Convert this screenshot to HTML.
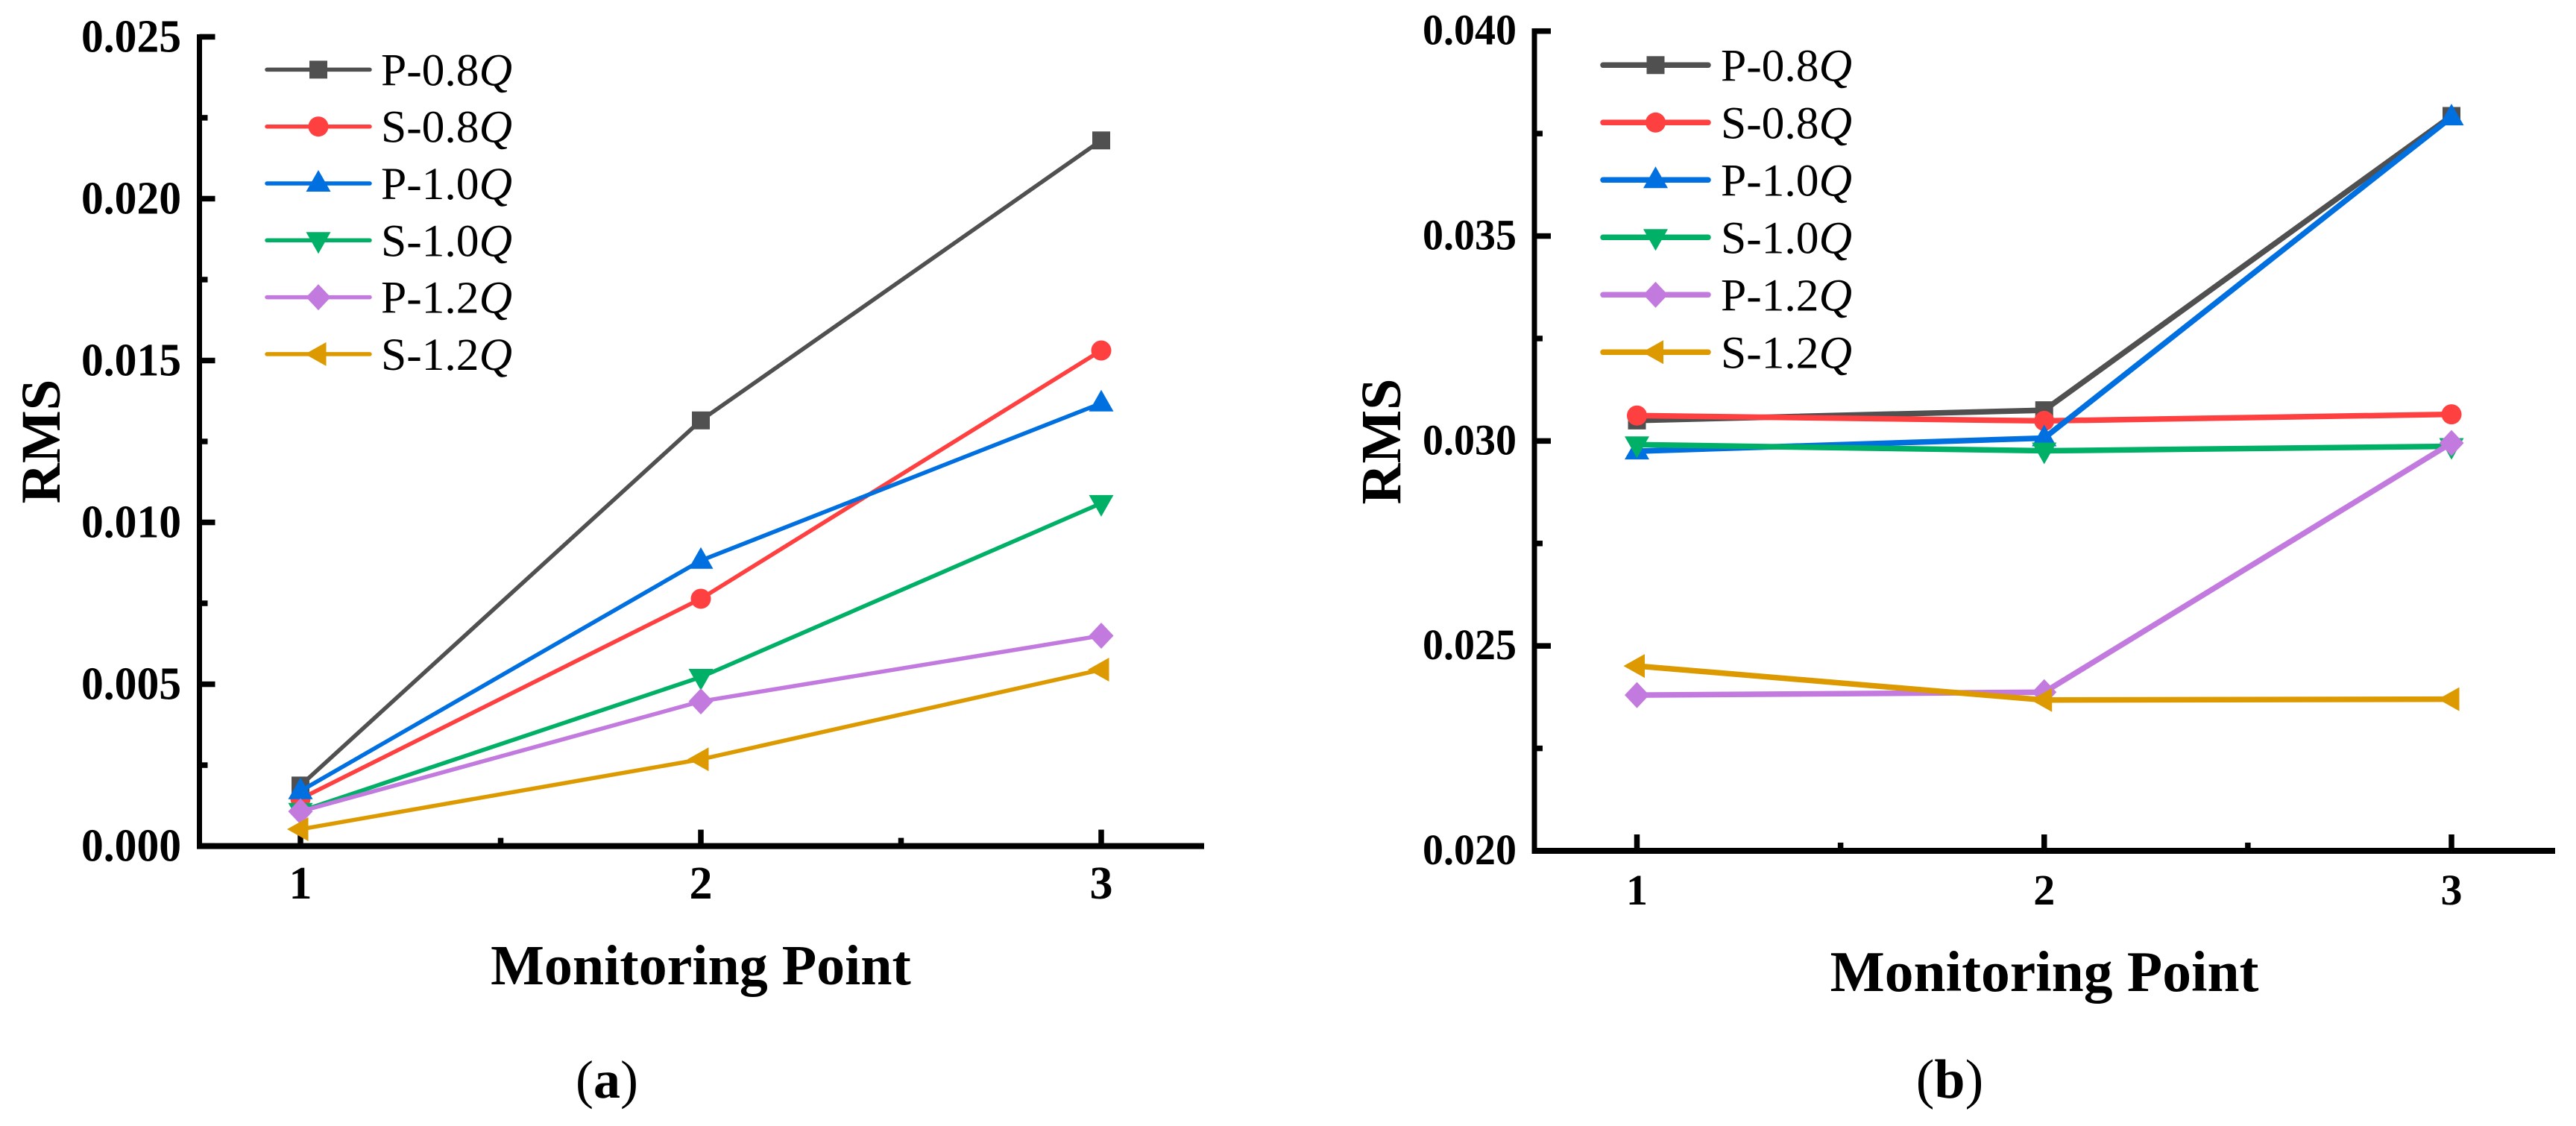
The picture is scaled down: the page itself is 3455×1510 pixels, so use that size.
<!DOCTYPE html>
<html lang="en">
<head>
<meta charset="utf-8">
<title>RMS by monitoring point</title>
<style>
html,body{margin:0;padding:0;background:#fff;}
svg{display:block;}
text{font-family:"Liberation Serif",serif;fill:#000;}
.tick{font-weight:bold;}
.title{font-weight:bold;}
</style>
</head>
<body>
<svg id="figure" xmlns="http://www.w3.org/2000/svg" width="3455" height="1510" viewBox="0 0 3455 1510">
  <rect width="3455" height="1510" fill="#fff"/>
  <g id="panel-a"></g>
  <g id="panel-b"></g>
  <text class="title" font-size="75" text-anchor="middle" transform="translate(80 592) rotate(-90)">RMS</text>
  <text class="title" font-size="76" text-anchor="middle" transform="translate(1878 592) rotate(-90)">RMS</text>
  <text class="title" font-size="76" x="940" y="1320" text-anchor="middle">Monitoring Point</text>
  <text class="title" font-size="77.5" x="2742" y="1329" text-anchor="middle">Monitoring Point</text>
  <text font-size="72" x="814" y="1472" text-anchor="middle">(<tspan font-weight="bold">a</tspan>)</text>
  <text font-size="74" x="2615" y="1472" text-anchor="middle">(<tspan font-weight="bold">b</tspan>)</text>
</svg>
<script>
const monitoringPoints = [1, 2, 3];
const minorPoints = [1.5, 2.5];
const seriesLabels = ['P-0.8', 'S-0.8', 'P-1.0', 'S-1.0', 'P-1.2', 'S-1.2'];
const seriesColors = ['#505050', '#FF4040', '#006FE0', '#00B067', '#C27ADF', '#DC9A00'];
const seriesMarkers = ['square', 'circle', 'up', 'down', 'diamond', 'left'];

const yMajorA = [0, 0.005, 0.010, 0.015, 0.020, 0.025];
const yMajorLabelsA = ['0.000', '0.005', '0.010', '0.015', '0.020', '0.025'];
const yMinorA = [0.0025, 0.0075, 0.0125, 0.0175, 0.0225];

const yMajorB = [0.020, 0.025, 0.030, 0.035, 0.040];
const yMajorLabelsB = ['0.020', '0.025', '0.030', '0.035', '0.040'];
const yMinorB = [0.0225, 0.0275, 0.0325, 0.0375];

const aP08 = [0.00187, 0.01315, 0.0218];
const aS08 = [0.00146, 0.00764, 0.01531];
const aP10 = [0.0017, 0.00882, 0.01368];
const aS10 = [0.00108, 0.00522, 0.01059];
const aP12 = [0.00107, 0.00447, 0.0065];
const aS12 = [0.00052, 0.00268, 0.00545];

const bP08 = [0.0305, 0.03075, 0.03793];
const bS08 = [0.03062, 0.03049, 0.03065];
const bP10 = [0.02975, 0.03007, 0.0379];
const bS10 = [0.02991, 0.02976, 0.02987];
const bP12 = [0.0238, 0.02387, 0.02995];
const bS12 = [0.02451, 0.02368, 0.0237];

const seriesA = [aP08, aS08, aP10, aS10, aP12, aS12];
const seriesB = [bP08, bS08, bP10, bS10, bP12, bS12];

const NS = 'http://www.w3.org/2000/svg';

function make(tag, attrs, parent) {
  const el = document.createElementNS(NS, tag);
  for (const k in attrs) el.setAttribute(k, attrs[k]);
  parent.appendChild(el);
  return el;
}

function drawMarker(kind, cx, cy, color, parent) {
  let el;
  if (kind === 'square') {
    el = make('rect', {x: cx - 12, y: cy - 12, width: 24, height: 24, fill: color}, parent);
  } else if (kind === 'circle') {
    el = make('circle', {cx: cx, cy: cy, r: 13.5, fill: color}, parent);
  } else {
    let pts;
    if (kind === 'up') pts = [[cx, cy - 18], [cx + 16.5, cy + 11], [cx - 16.5, cy + 11]];
    if (kind === 'down') pts = [[cx, cy + 18], [cx + 16.5, cy - 11], [cx - 16.5, cy - 11]];
    if (kind === 'diamond') pts = [[cx, cy - 17.5], [cx + 16.5, cy], [cx, cy + 17.5], [cx - 16.5, cy]];
    if (kind === 'left') pts = [[cx - 18, cy], [cx + 10.5, cy - 16], [cx + 10.5, cy + 16]];
    el = make('polygon', {points: pts.map(function (p) { return p.join(','); }).join(' '), fill: color}, parent);
  }
  
  
  return el;
}

function drawPanel(root, cfg) {
  const xScale = function (v) { return cfg.x1 + (v - 1) / 2 * (cfg.x3 - cfg.x1); };
  const yScale = function (v) { return cfg.y0 - (v - cfg.yMin) / (cfg.yMax - cfg.yMin) * (cfg.y0 - cfg.yTop); };
  const axisColor = '#000';

  const yAxis = make('rect', {x: cfg.axisX - 3.5, y: cfg.axisTop, width: 7, height: cfg.y0 + 3.5 - cfg.axisTop, fill: axisColor}, root);
  
  
  const xAxis = make('rect', {x: cfg.axisX - 3.5, y: cfg.y0 - 4, width: cfg.axisRight - cfg.axisX + 3.5, height: 8, fill: axisColor}, root);
  
  

  cfg.yMajor.forEach(function (v, i) {
    const t = make('rect', {x: cfg.axisX, y: yScale(v) - 3.75, width: cfg.majorY, height: 7.5, fill: axisColor}, root);
    
    
    const lab = make('text', {x: cfg.labelRight, y: yScale(v) + cfg.labelDy, 'font-size': cfg.tickFont, 'text-anchor': 'end', 'class': 'tick', textLength: cfg.labelWidth, lengthAdjust: 'spacingAndGlyphs'}, root);
    lab.textContent = cfg.yLabels[i];
    
    
  });
  cfg.yMinor.forEach(function (v) {
    const t = make('rect', {x: cfg.axisX, y: yScale(v) - 3.75, width: cfg.minorY, height: 7.5, fill: axisColor}, root);
    
    
  });
  monitoringPoints.forEach(function (v) {
    const t = make('rect', {x: xScale(v) - 3.75, y: cfg.y0 - 22, width: 7.5, height: 22, fill: axisColor}, root);
    
    
    const lab = make('text', {x: xScale(v), y: cfg.xLabelY, 'font-size': cfg.tickFont, 'text-anchor': 'middle', 'class': 'tick'}, root);
    lab.textContent = String(v);
    
    
  });
  minorPoints.forEach(function (v) {
    const t = make('rect', {x: xScale(v) - 3.75, y: cfg.y0 - 11, width: 7.5, height: 11, fill: axisColor}, root);
    
    
  });

  cfg.series.forEach(function (values, s) {
    const g = make('g', {}, root);
    
    
    const pts = values.map(function (v, i) { return xScale(monitoringPoints[i]) + ',' + yScale(v); }).join(' ');
    const line = make('polyline', {points: pts, fill: 'none', stroke: seriesColors[s], 'stroke-width': cfg.lineWidth, 'stroke-linejoin': 'round'}, g);
    
    
    values.forEach(function (v, i) {
      drawMarker(seriesMarkers[s], xScale(monitoringPoints[i]), yScale(v), seriesColors[s], g);
    });
  });

  const legend = make('g', {}, root);
  
  
  seriesLabels.forEach(function (label, s) {
    const y = cfg.legendY + s * cfg.legendStep;
    const entry = make('g', {}, legend);
    
    
    const sw = make('line', {x1: cfg.legendX0, x2: cfg.legendX1, y1: y, y2: y, stroke: seriesColors[s], 'stroke-width': cfg.lineWidth, 'stroke-linecap': 'round'}, entry);
    
    
    drawMarker(seriesMarkers[s], (cfg.legendX0 + cfg.legendX1) / 2, y, seriesColors[s], entry);
    const txt = make('text', {x: cfg.legendTextX, y: y + 21, 'font-size': 61.5}, entry);
    
    
    txt.appendChild(document.createTextNode(label));
    const q = make('tspan', {'font-style': 'italic'}, txt);
    q.textContent = 'Q';
  });
}

drawPanel(document.getElementById('panel-a'), {
  x1: 403, x3: 1477, y0: 1134.6, yTop: 49.4, yMin: 0, yMax: 0.025,
  axisX: 267.5, axisTop: 46, axisRight: 1615,
  majorY: 21, minorY: 11,
  labelRight: 243, labelDy: 20, tickFont: 62, labelWidth: 134, xLabelY: 1205,
  lineWidth: 5.5,
  yMajor: yMajorA, yLabels: yMajorLabelsA, yMinor: yMinorA, series: seriesA,
  legendY: 93.4, legendStep: 76.3, legendX0: 358, legendX1: 496, legendTextX: 511
});

drawPanel(document.getElementById('panel-b'), {
  x1: 2195.5, x3: 3288, y0: 1141, yTop: 41.7, yMin: 0.020, yMax: 0.040,
  axisX: 2058, axisTop: 38, axisRight: 3427,
  majorY: 22, minorY: 11,
  labelRight: 2034, labelDy: 18, tickFont: 58, labelWidth: 126, xLabelY: 1213,
  lineWidth: 7.5,
  yMajor: yMajorB, yLabels: yMajorLabelsB, yMinor: yMinorB, series: seriesB,
  legendY: 87.3, legendStep: 77, legendX0: 2150, legendX1: 2291, legendTextX: 2308
});
</script>
</body>
</html>
